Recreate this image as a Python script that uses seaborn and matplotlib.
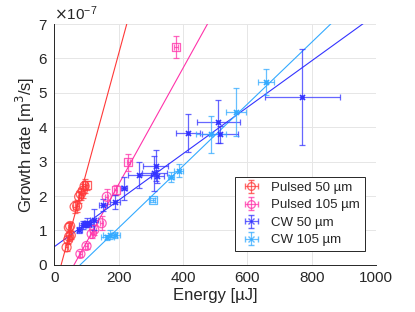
import numpy as np
import pandas as pd
import matplotlib
matplotlib.use("Agg")
import matplotlib.pyplot as plt
import seaborn as sns
from matplotlib.ticker import ScalarFormatter

# ---- data (growth rate in units of 1e-7 m^3/s, energy in uJ) ----
p50_E = [38, 43, 46, 51, 45, 49, 63, 71, 77, 82, 88, 94, 100]
p50_G = [0.51, 0.73, 0.82, 0.86, 1.09, 1.13, 1.69, 1.71, 1.98, 2.06, 2.15, 2.29, 2.31]
p50_yerr = [0.12, 0.12, 0.12, 0.12, 0.12, 0.12, 0.18, 0.18, 0.18, 0.18, 0.2, 0.2, 0.12]
p50_xerr = [4, 4, 4, 4, 4, 4, 5, 5, 5, 5, 5, 5, 5]

p105_E = [81, 100, 116, 124, 147, 163, 191, 230, 378]
p105_G = [0.32, 0.55, 0.90, 1.02, 1.21, 1.98, 2.18, 2.98, 6.34]
p105_yerr = [0.08, 0.1, 0.12, 0.15, 0.2, 0.22, 0.15, 0.25, 0.32]
p105_xerr = [5, 5, 5, 5, 5, 5, 5, 5, 5]

c50_E = [77, 88, 95, 103, 109, 123, 152, 189, 217, 264, 311, 315, 320, 415, 510, 515, 771]
c50_G = [1.02, 1.16, 1.19, 1.23, 1.19, 1.31, 1.74, 1.82, 2.23, 2.61, 2.66, 2.88, 2.57, 3.84, 4.16, 3.80, 4.87]
c50_yerr = [0.08, 0.12, 0.1, 0.12, 0.1, 0.3, 0.17, 0.2, 0.33, 0.38, 0.5, 0.45, 0.2, 0.55, 0.63, 0.25, 1.39]
c50_xerr = [8, 10, 10, 10, 10, 12, 12, 15, 10, 36, 38, 38, 20, 38, 67, 55, 117]

c105_E = [165, 172, 190, 306, 363, 386, 486, 565, 658]
c105_G = [0.80, 0.88, 0.87, 1.88, 2.55, 2.74, 3.79, 4.45, 5.31]
c105_yerr = [0.08, 0.12, 0.08, 0.05, 0.15, 0.2, 0.53, 0.7, 0.37]
c105_xerr = [20, 22, 15, 8, 10, 15, 47, 31, 25]

# linear fits: slope, intercept (1e-7 units)
fit_slope = [0.0343, 0.01687, 0.00675, 0.008986]
fit_icpt = [-0.72, -1.03, 0.53, -0.72]

labels = ["Pulsed 50 µm", "Pulsed 105 µm", "CW 50 µm", "CW 105 µm"]
colors = ["#ff3838", "#ff33aa", "#3333ff", "#33aaff"]

sns.set_style("whitegrid")
plt.rcParams["font.family"] = ["Liberation Sans", "DejaVu Sans"]

fig = plt.figure(figsize=(4.15, 3.12), dpi=100)
ax = fig.add_axes([0.131, 0.151, 0.775, 0.772])

S = 1e-7
series = [
    (p50_E, p50_G, p50_xerr, p50_yerr, "o"),
    (p105_E, p105_G, p105_xerr, p105_yerr, "o"),
    (c50_E, c50_G, c50_xerr, c50_yerr, "x"),
    (c105_E, c105_G, c105_xerr, c105_yerr, "x"),
]
square_pts = {0: [12], 1: [6, 7, 8], 3: [3]}

xl = np.array([0, 1000])
handles = []
for i, (E, G, xe, ye, mk) in enumerate(series):
    col = colors[i]
    E = np.array(E)
    G = np.array(G) * S
    ye = np.array(ye) * S
    xe = np.array(xe)
    sq = square_pts.get(i, [])
    idx_c = [k for k in range(len(E)) if k not in sq]
    ax.errorbar(E, G, xerr=xe, yerr=ye, fmt="none", ecolor=col, elinewidth=0.9,
                capsize=2.2, capthick=0.9, alpha=0.75, zorder=3)
    df = pd.DataFrame({"E": E[idx_c], "G": G[idx_c]})
    if mk == "o":
        ax.scatter(df["E"], df["G"], s=6.5**2, facecolors="none", edgecolors=col,
                   linewidths=0.9, alpha=0.8, zorder=4)
    else:
        sns.scatterplot(data=df, x="E", y="G", ax=ax, marker="x", s=14, color=col,
                        linewidth=1.0, zorder=4, legend=False)
        ax.scatter(df["E"], df["G"], s=5, color=col, zorder=4)
    if sq:
        ax.scatter(E[sq], G[sq], s=34, marker="s", facecolors="none", edgecolors=col,
                   linewidths=0.9, alpha=0.8, zorder=4)
    fit = pd.DataFrame({"E": xl, "G": (fit_slope[i] * xl + fit_icpt[i]) * S})
    sns.lineplot(data=fit, x="E", y="G", ax=ax, color=col, linewidth=0.8, zorder=2, legend=False)
    handles.append(ax.errorbar([np.nan], [np.nan], xerr=[1], yerr=[1], fmt=mk,
                               color=col, mfc="none" if mk == "o" else col,
                               ms=5.5 if mk == "o" else 4, elinewidth=0.9, capsize=2.2, alpha=0.75))

ax.set_xlim(0, 1000)
ax.set_ylim(0, 7e-7)
ax.set_xticks([0, 200, 400, 600, 800, 1000])
ax.set_yticks(np.arange(0, 8) * 1e-7)
fmt = ScalarFormatter(useMathText=True)
fmt.set_powerlimits((-3, 3))
ax.yaxis.set_major_formatter(fmt)
ax.yaxis.get_offset_text().set_fontsize(11)
ax.yaxis.get_offset_text().set_color("#262626")

ax.set_xlabel("Energy [µJ]", fontsize=12, color="#262626", labelpad=2)
ax.set_ylabel("Growth rate [m$^3$/s]", fontsize=12, color="#262626", labelpad=1)
ax.tick_params(axis="both", labelsize=11, colors="#262626", direction="out", length=2.5, width=0.6, pad=2)
ax.grid(True, color="#e6e6e6", linewidth=0.7)
for s in ["top", "right"]:
    ax.spines[s].set_visible(False)
for s in ["left", "bottom"]:
    ax.spines[s].set_color("#262626")
    ax.spines[s].set_linewidth(0.7)

leg = ax.legend(handles, labels, loc="lower right", bbox_to_anchor=(0.985, 0.03), fontsize=9.5,
                frameon=True, fancybox=False, edgecolor="#262626", framealpha=1,
                handlelength=1.8, handletextpad=0.6, borderpad=0.35, labelspacing=0.4)
leg.get_frame().set_linewidth(0.7)

fig.savefig("out.png", dpi=100)
